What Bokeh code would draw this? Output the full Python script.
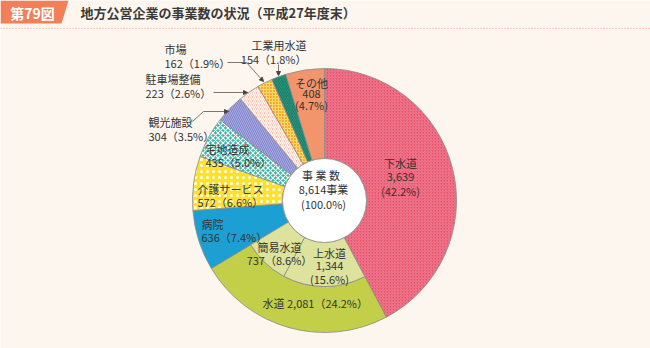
import numpy as np
from bokeh.plotting import figure
from bokeh.models import ColumnDataSource, Range1d, PolyAnnotation, Span, Arrow, NormalHead
from bokeh.core.properties import value
from bokeh.embed import file_html
from bokeh.resources import INLINE

# ---- data ----
categories = ["下水道", "水道", "病院", "介護サービス", "宅地造成", "観光施設", "駐車場整備", "市場", "工業用水道", "その他"]
counts = [3639, 2081, 636, 572, 435, 304, 223, 162, 154, 408]
percents = [42.2, 24.2, 7.4, 6.6, 5.0, 3.5, 2.6, 1.9, 1.8, 4.7]
water_sub = ["上水道", "簡易水道"]
water_sub_counts = [1344, 737]
water_sub_percents = [15.6, 8.6]
total_label = "事  業  数"
total_count = 8614
total_percent = 100.0
title_tag = "第79図"
title_text = "地方公営企業の事業数の状況（平成27年度末）"

# ---- styles ----
W, H = 650, 348
BG = "#FDF6EE"
FONT = "Noto Sans CJK JP"
FS = "11px"
CX, CY = 324, H - 200
R_OUT, R_MID, R_IN = 132, 86, 42

fills = {"下水道": "#E84F69", "水道": "#C3CF48", "病院": "#1C9FD3", "介護サービス": "#FFE12C",
         "宅地造成": "#35B6A6", "観光施設": "#A9ABE2", "駐車場整備": "#F8BBA8", "市場": "#F8A92C",
         "工業用水道": "#2DA98C", "その他": "#F2946C"}
hatches = {"下水道": ("/", "#FFFFFF", 3.0, 0.7, 0.4), "水道": (" ", "#FFFFFF", 6, 1, 1),
           "病院": (" ", "#FFFFFF", 6, 1, 1), "介護サービス": (".", "#FFFFFF", 6, 1.6, 1),
           "宅地造成": ("x", "#FFFFFF", 5, 1.2, 1), "観光施設": ("\\", "#8083C8", 4, 1.0, 1),
           "駐車場整備": ("/", "#FFFFFF", 4, 1.2, 1), "市場": ("+", "#FFD86A", 3, 1.2, 1),
           "工業用水道": ("\\", "#1B7360", 3.5, 1.0, 1), "その他": (" ", "#FFFFFF", 6, 1, 1)}
SUB_FILL = "#DDE39C"

total = sum(counts)
cum = np.concatenate([[0], np.cumsum(counts)])


def ang(c):
    return np.pi / 2 - 2 * np.pi * c / total


outer = dict(x=[], y=[], r0=[], r1=[], sa=[], ea=[], fill=[], hp=[], hc=[], hs=[], hw=[], ha=[])
for i, cat in enumerate(categories):
    outer["x"].append(CX)
    outer["y"].append(CY)
    outer["r0"].append(R_MID if cat == "水道" else R_IN)
    outer["r1"].append(R_OUT)
    outer["sa"].append(ang(cum[i + 1]))
    outer["ea"].append(ang(cum[i]))
    outer["fill"].append(fills[cat])
    hp, hc, hs, hw, ha = hatches[cat]
    outer["hp"].append(hp)
    outer["hc"].append(hc)
    outer["hs"].append(hs)
    outer["hw"].append(hw)
    outer["ha"].append(ha)

wi = categories.index("水道")
sub_cum = cum[wi] + np.concatenate([[0], np.cumsum(water_sub_counts)])
inner = dict(x=[CX] * 2, y=[CY] * 2,
             sa=[ang(sub_cum[k + 1]) for k in range(2)],
             ea=[ang(sub_cum[k]) for k in range(2)])

p = figure(width=W, height=H, x_range=Range1d(0, W), y_range=Range1d(0, H),
           output_backend="svg", toolbar_location=None, min_border=0,
           x_axis_location=None, y_axis_location=None,
           background_fill_color=BG, border_fill_color=BG, outline_line_color=None)
p.grid.visible = False

p.annular_wedge(x="x", y="y", inner_radius="r0", outer_radius="r1", start_angle="sa", end_angle="ea",
                direction="anticlock", fill_color="fill", hatch_pattern="hp", hatch_color="hc",
                hatch_scale="hs", hatch_weight="hw", hatch_alpha="ha", line_color="#8C8C8C", line_width=0.8,
                source=ColumnDataSource(outer))
p.annular_wedge(x="x", y="y", inner_radius=R_IN, outer_radius=R_MID, start_angle="sa", end_angle="ea",
                direction="anticlock", fill_color=SUB_FILL, line_color="#8C8C8C", line_width=0.8,
                source=ColumnDataSource(inner))
p.circle(x=[CX], y=[CY], radius=R_IN, fill_color="#FFFFFF", line_color="#8C8C8C", line_width=0.8)

# ---- header ----
p.add_layout(PolyAnnotation(xs=[0, 68, 61, 0], ys=[H, H, H - 23, H - 23], xs_units="screen", ys_units="screen",
                            fill_color="#F07F5A", fill_alpha=1, line_color=None, level="underlay"))
p.add_layout(Span(location=H - 28, dimension="width", line_color="#F2A58A", line_width=1.2, line_dash="1 2"))
p.text(x=[32], y=[H - 12], text=[title_tag], text_font=value(FONT), text_font_size="14px",
       text_font_style="bold", text_color="#FFFFFF", text_align="center", text_baseline="middle")
p.text(x=[80], y=[H - 12], text=[title_text], text_font=value(FONT), text_font_size="13px",
       text_font_style="bold", text_color="#3A3A3A", text_align="left", text_baseline="middle")

# ---- labels ----
def lbl(i):
    return f"{counts[i]:,}（{percents[i]:.1f}%）"

ci = {c: i for i, c in enumerate(categories)}
left_labels = [
    (164, 48, categories[ci["市場"]]), (164, 62, lbl(ci["市場"])),
    (145, 78, categories[ci["駐車場整備"]]), (145, 92, lbl(ci["駐車場整備"])),
    (148, 121, categories[ci["観光施設"]]), (148, 135, lbl(ci["観光施設"])),
    (205, 148, categories[ci["宅地造成"]]), (205, 161, lbl(ci["宅地造成"])),
    (197, 188, categories[ci["介護サービス"]]), (197, 201, lbl(ci["介護サービス"])),
    (201, 223, categories[ci["病院"]]), (201, 236, lbl(ci["病院"])),
    (262, 302, f"{categories[wi]}  {lbl(wi)}"),
]
right_labels = [
    (306, 44, categories[ci["工業用水道"]]), (306, 58, lbl(ci["工業用水道"])),
]
oi, si = ci["その他"], ci["下水道"]
center_labels = [
    (311, 82, categories[oi]), (311, 93, f"{counts[oi]:,}"), (311, 104, f"({percents[oi]:.1f}%)"),
    (400, 162, categories[si]), (400, 176, f"{counts[si]:,}"), (400, 190, f"({percents[si]:.1f}%)"),
    (279, 246, water_sub[1]), (279, 259, f"{water_sub_counts[1]:,}（{water_sub_percents[1]:.1f}%）"),
    (329, 252, water_sub[0]), (329, 265, f"{water_sub_counts[0]:,}"), (329, 278, f"({water_sub_percents[0]:.1f}%)"),
    (323, 174, total_label), (323, 188, f"{total_count:,}事業"), (323, 203, f"({total_percent:.1f}%)"),
]
for labels, align in [(left_labels, "left"), (right_labels, "right"), (center_labels, "center")]:
    src = ColumnDataSource(dict(x=[a for a, b, c in labels], y=[H - b for a, b, c in labels],
                                t=[c for a, b, c in labels]))
    p.text(x="x", y="y", text="t", source=src, text_font=value(FONT), text_font_size=FS,
           text_color="#333333", text_align=align, text_baseline="middle")

# ---- leader lines ----
leaders = [
    [(227, 62), (246, 62), (263, 81)],
    [(278, 64), (278, 75)],
    [(213, 92), (247, 92)],
    [(192, 121), (203, 111), (228, 111)],
]
for pts in leaders:
    xs = [a for a, b in pts]
    ys = [H - b for a, b in pts]
    if len(pts) > 2:
        p.line(xs[:-1], ys[:-1], line_color="#555555", line_width=0.8)
    p.add_layout(Arrow(end=NormalHead(size=4, fill_color="#444444", line_color="#444444"),
                       x_start=xs[-2], y_start=ys[-2], x_end=xs[-1], y_end=ys[-1],
                       line_color="#555555", line_width=0.8))

open("out.html", "w").write(file_html(p, INLINE))
